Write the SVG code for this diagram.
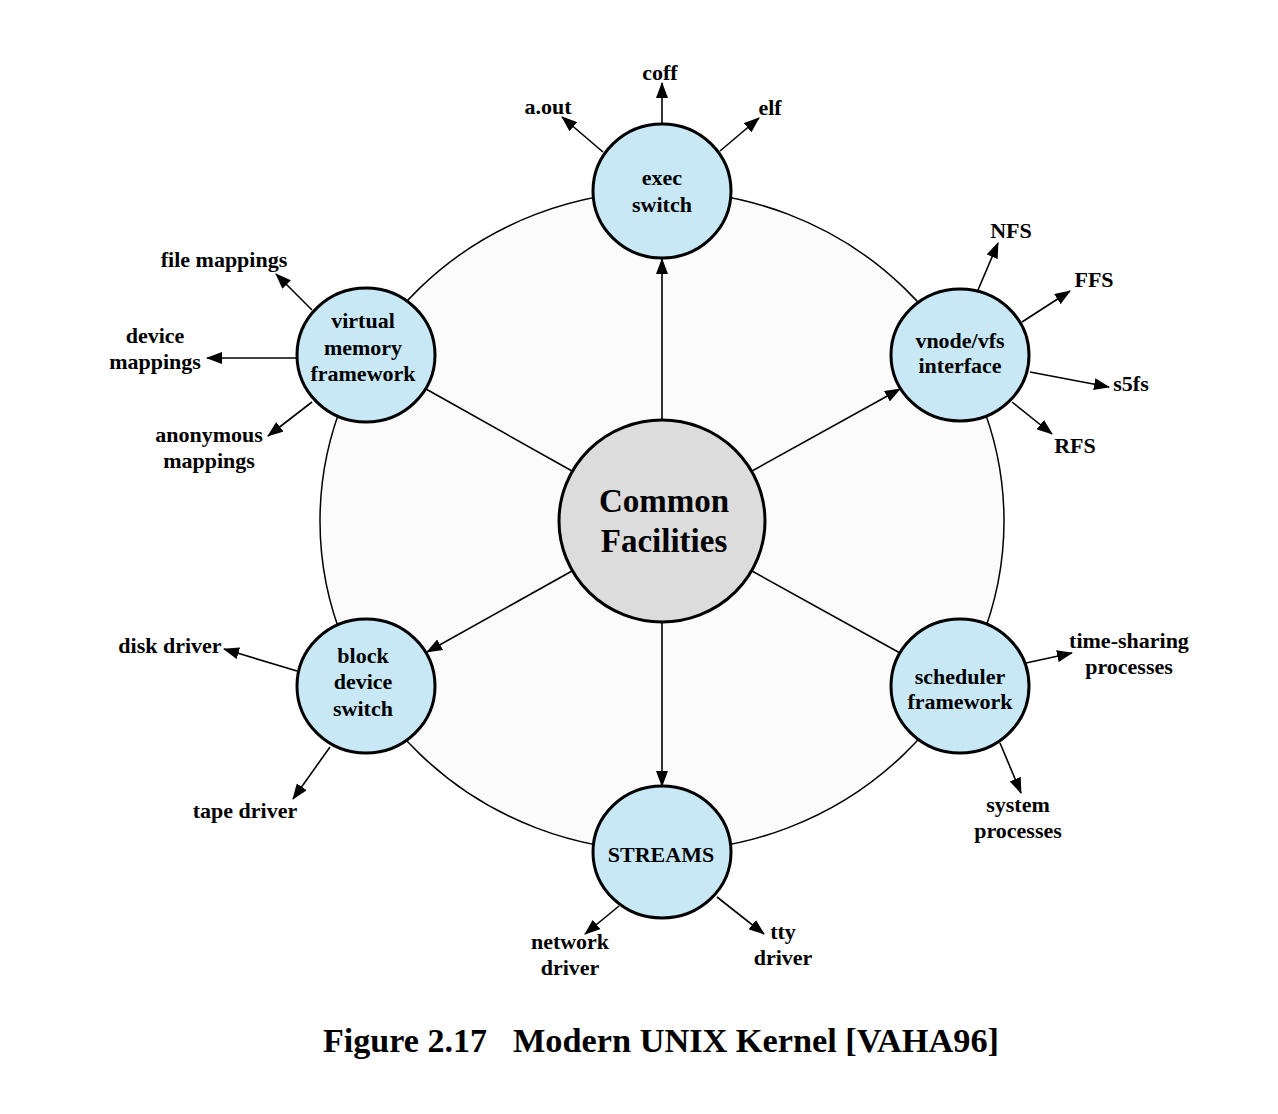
<svg xmlns="http://www.w3.org/2000/svg" width="1278" height="1114" viewBox="0 0 1278 1114">
<style>
text { font-family: "Liberation Serif", "Times New Roman", serif; font-weight: bold; fill: #000; }
.lbl { font-size: 22px; text-anchor: middle; }
.cen { font-size: 33px; text-anchor: middle; }
.cap { font-size: 34px; }
.node { fill: #c9e8f6; stroke: #000; stroke-width: 3; }
.core { fill: #dcdcdc; stroke: #000; stroke-width: 3; }
.ring { fill: #fbfbfb; stroke: #000; stroke-width: 1.5; }
.c { stroke: #000; stroke-width: 1.6; fill: none; }
.a { marker-end: url(#ah); }
</style>
<defs>
<marker id="ah" markerUnits="userSpaceOnUse" markerWidth="16" markerHeight="12" refX="15" refY="6" orient="auto" viewBox="0 0 16 12">
<path d="M0,0 L16,6 L0,12 z" fill="#000"/>
</marker>
</defs>
<rect width="1278" height="1114" fill="#fff"/>
<ellipse class="ring" cx="662" cy="521" rx="342" ry="330"/>
<g id="connectors">
<line class="c a" x1="662" y1="420" x2="662" y2="259"/>
<line class="c a" x1="752" y1="471" x2="900" y2="389"/>
<line class="c" x1="752" y1="571" x2="900" y2="653"/>
<line class="c a" x1="662" y1="622" x2="662" y2="786"/>
<line class="c a" x1="572" y1="571" x2="427" y2="652"/>
<line class="c" x1="572" y1="471" x2="426" y2="389"/>
<line class="c a" x1="662" y1="124" x2="662" y2="83"/>
<line class="c a" x1="603" y1="152" x2="562" y2="117"/>
<line class="c a" x1="720" y1="151" x2="759" y2="118"/>
<line class="c a" x1="978" y1="290" x2="998" y2="243"/>
<line class="c a" x1="1022" y1="322" x2="1070" y2="291"/>
<line class="c a" x1="1030" y1="372" x2="1109" y2="387"/>
<line class="c a" x1="1012" y1="402" x2="1052" y2="434"/>
<line class="c a" x1="312" y1="310" x2="276" y2="274"/>
<line class="c a" x1="296" y1="358" x2="207" y2="358"/>
<line class="c a" x1="312" y1="402" x2="268" y2="436"/>
<line class="c a" x1="297" y1="671" x2="224" y2="649"/>
<line class="c a" x1="330" y1="747" x2="293" y2="799"/>
<line class="c a" x1="1026" y1="663" x2="1072" y2="653"/>
<line class="c a" x1="1000" y1="743" x2="1021" y2="793"/>
<line class="c a" x1="619" y1="906" x2="585" y2="934"/>
<line class="c a" x1="717" y1="897" x2="764" y2="934"/>
</g>
<g id="common">
<ellipse class="core" cx="662" cy="521" rx="103" ry="101"/>
<text class="cen" x="664" y="512">Common</text>
<text class="cen" x="664" y="552">Facilities</text>
</g>
<g id="exec">
<ellipse class="node" cx="662" cy="191" rx="69" ry="67"/>
<text class="lbl" x="662" y="185">exec</text>
<text class="lbl" x="662" y="212">switch</text>
</g>
<g id="vnode">
<ellipse class="node" cx="960" cy="355" rx="69" ry="66"/>
<text class="lbl" x="960" y="348">vnode/vfs</text>
<text class="lbl" x="960" y="373">interface</text>
</g>
<g id="scheduler">
<ellipse class="node" cx="960" cy="686" rx="69" ry="67"/>
<text class="lbl" x="960" y="684">scheduler</text>
<text class="lbl" x="960" y="709">framework</text>
</g>
<g id="streams">
<ellipse class="node" cx="662" cy="852" rx="69" ry="66"/>
<text class="lbl" x="661" y="862">STREAMS</text>
</g>
<g id="block">
<ellipse class="node" cx="366" cy="686" rx="69" ry="67"/>
<text class="lbl" x="363" y="663">block</text>
<text class="lbl" x="363" y="689">device</text>
<text class="lbl" x="363" y="716">switch</text>
</g>
<g id="vm">
<ellipse class="node" cx="366" cy="355" rx="69" ry="67"/>
<text class="lbl" x="363" y="328">virtual</text>
<text class="lbl" x="363" y="355">memory</text>
<text class="lbl" x="363" y="381">framework</text>
</g>
<g id="labels">
<text class="lbl" x="660" y="80">coff</text>
<text class="lbl" x="548" y="114">a.out</text>
<text class="lbl" x="770" y="115">elf</text>
<text class="lbl" x="1011" y="238">NFS</text>
<text class="lbl" x="1094" y="287">FFS</text>
<text class="lbl" x="1131" y="391">s5fs</text>
<text class="lbl" x="1075" y="453">RFS</text>
<text class="lbl" x="224" y="267">file mappings</text>
<text class="lbl" x="155" y="343">device</text>
<text class="lbl" x="155" y="369">mappings</text>
<text class="lbl" x="209" y="442">anonymous</text>
<text class="lbl" x="209" y="468">mappings</text>
<text class="lbl" x="170" y="653">disk driver</text>
<text class="lbl" x="245" y="818">tape driver</text>
<text class="lbl" x="1129" y="648">time-sharing</text>
<text class="lbl" x="1129" y="674">processes</text>
<text class="lbl" x="1018" y="812">system</text>
<text class="lbl" x="1018" y="838">processes</text>
<text class="lbl" x="570" y="949">network</text>
<text class="lbl" x="570" y="975">driver</text>
<text class="lbl" x="783" y="939">tty</text>
<text class="lbl" x="783" y="965">driver</text>
</g>
<g id="caption">
<text class="cap" x="323" y="1052" textLength="164" lengthAdjust="spacingAndGlyphs">Figure 2.17</text>
<text class="cap" x="513" y="1052" textLength="486" lengthAdjust="spacingAndGlyphs">Modern UNIX Kernel [VAHA96]</text>
</g>
</svg>
